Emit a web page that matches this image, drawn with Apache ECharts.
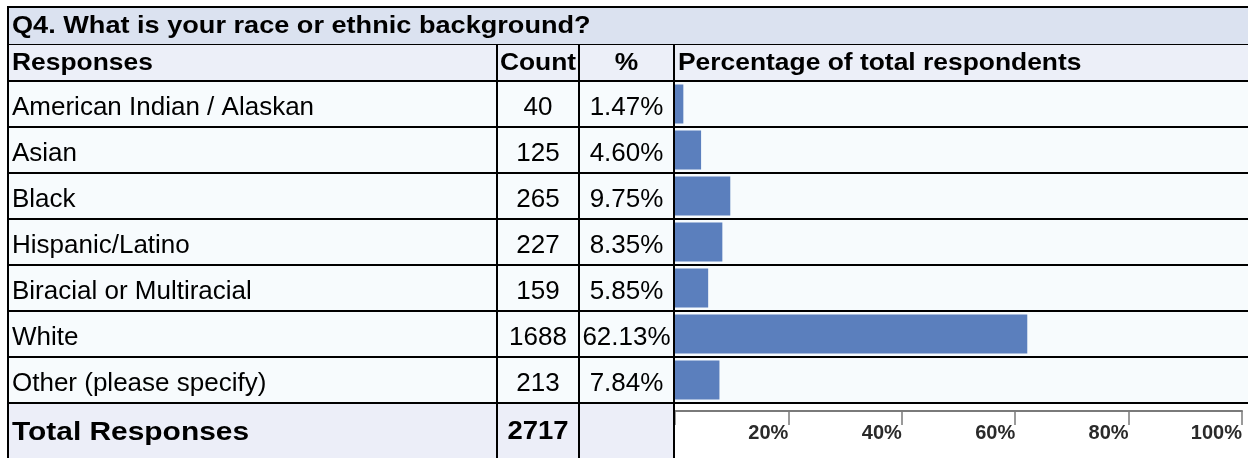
<!DOCTYPE html>
<html>
<head>
<meta charset="utf-8">
<script src="https://cdn.jsdelivr.net/npm/echarts@6/dist/echarts.min.js"></script>
<style>
  html, body { margin: 0; padding: 0; background: #fff; }
  #chart { width: 1248px; height: 458px; }
</style>
</head>
<body>
<div id="chart"></div>
<script>
const question = 'Q4. What is your race or ethnic background?';
const responses = [
  'American Indian / Alaskan',
  'Asian',
  'Black',
  'Hispanic/Latino',
  'Biracial or Multiracial',
  'White',
  'Other (please specify)'
];
const counts = [40, 125, 265, 227, 159, 1688, 213];
const percents = [1.47, 4.60, 9.75, 8.35, 5.85, 62.13, 7.84];
const totalCount = 2717;
const headers = ['Responses', 'Count', '%', 'Percentage of total respondents'];

// table geometry
const W = 1248, H = 458;
const tblLeft = 7, tblTop = 7;
const headTop = 44, rowTop = 81, rowH = 46;
const nRows = responses.length;
const totTop = rowTop + rowH * nRows;      // 403
const col1 = 497, col2 = 579, col3 = 674;
const font = '"Liberation Sans", Arial, Helvetica, sans-serif';

const chart = echarts.init(document.getElementById('chart'));

const rect = (x, y, w, h, fill, z) => ({
  type: 'rect', silent: true, z: z || 0,
  shape: { x: x, y: y, width: w, height: h },
  style: { fill: fill }
});
const boldText = (str, x, y, size, stretch, align) => ({
  type: 'text', silent: true, z: 20, x: x, y: y, scaleX: stretch,
  style: {
    text: str, x: 0, y: 0, fill: '#000',
    font: 'bold ' + size + 'px ' + font,
    align: align || 'left', verticalAlign: 'middle'
  }
});

const gfx = [];
// backgrounds
gfx.push(rect(tblLeft, tblTop, W - tblLeft, headTop - tblTop, '#dbe2f0'));
gfx.push(rect(tblLeft, headTop, W - tblLeft, rowTop - headTop, '#eceff8'));
gfx.push(rect(tblLeft, rowTop, W - tblLeft, totTop - rowTop, '#f7fbfd'));
gfx.push(rect(tblLeft, totTop, col3 - tblLeft, H - totTop, '#eceef8'));
gfx.push(rect(col3, totTop, W - col3, H - totTop, '#ffffff'));
// borders
gfx.push(rect(tblLeft, tblTop - 1, W - tblLeft, 2, '#000', 10));
gfx.push(rect(tblLeft, tblTop, 2, H - tblTop, '#000', 10));
gfx.push(rect(tblLeft, headTop, W - tblLeft, 1, '#000', 10));
for (let i = 0; i <= nRows; i++) {
  gfx.push(rect(tblLeft, rowTop - 1 + rowH * i, W - tblLeft, 2, '#000', 10));
}
[col1, col2, col3].forEach(function (cx) {
  gfx.push(rect(cx - 1, headTop, 2, H - headTop, '#000', 10));
});
// title, headers, totals
const headY = (headTop + rowTop) / 2 + 1;
const totY = (totTop + H) / 2 + 2;
gfx.push(boldText(question, 12, (tblTop + headTop) / 2 + 1, 24, 1.13));
gfx.push(boldText(headers[0], 12, headY, 24, 1.1));
gfx.push(boldText(headers[1], (col1 + col2) / 2, headY, 24, 1.1, 'center'));
gfx.push(boldText(headers[2], (col2 + col3) / 2, headY, 24, 1.1, 'center'));
gfx.push(boldText(headers[3], col3 + 4, headY, 24, 1.1));
gfx.push(boldText('Total Responses', 12, totY, 26, 1.15));
gfx.push(boldText(String(totalCount), (col1 + col2) / 2, totY, 25, 1.1, 'center'));

const gridLeft = 675;
// top-aligned with a short line box so the text sits a few px below the band centre
const rowLabel = { fontSize: 26, fontFamily: font, color: '#000', verticalAlign: 'top', lineHeight: 8 };
const hidden = { axisLine: { show: false }, axisTick: { show: false }, splitLine: { show: false } };

chart.setOption({
  animation: false,
  graphic: gfx,
  grid: { left: gridLeft, right: 6, top: rowTop, height: rowH * nRows },
  xAxis: {
    type: 'value', min: 0, max: 100, interval: 20,
    position: 'bottom', offset: 8,
    axisLine: { show: true, lineStyle: { color: '#7a7a7a', width: 2 } },
    axisTick: { show: true, length: 14, lineStyle: { color: '#7a7a7a', width: 1.5 } },
    splitLine: { show: false },
    axisLabel: {
      margin: 12, align: 'right', color: '#2a2a2a',
      fontFamily: font, fontWeight: 'bold', fontSize: 20,
      showMaxLabel: true, showMinLabel: true,
      formatter: function (v) { return v === 0 ? '' : v + '%'; }
    }
  },
  yAxis: [
    Object.assign({
      type: 'category', inverse: true, data: responses,
      axisLabel: Object.assign({ margin: gridLeft - 12, align: 'left' }, rowLabel)
    }, hidden),
    Object.assign({
      type: 'category', inverse: true, position: 'left', offset: 0,
      data: counts.map(String),
      axisLabel: Object.assign({ margin: gridLeft - (col1 + col2) / 2, align: 'center' }, rowLabel)
    }, hidden),
    Object.assign({
      type: 'category', inverse: true, position: 'left', offset: 0,
      data: percents.map(function (p) { return p.toFixed(2) + '%'; }),
      axisLabel: Object.assign({ margin: gridLeft - (col2 + col3) / 2, align: 'center' }, rowLabel)
    }, hidden)
  ],
  series: [{
    type: 'bar',
    data: percents,
    barWidth: 39,
    itemStyle: { color: '#5b7fbd' },
    z: 5
  }]
});
</script>
</body>
</html>
